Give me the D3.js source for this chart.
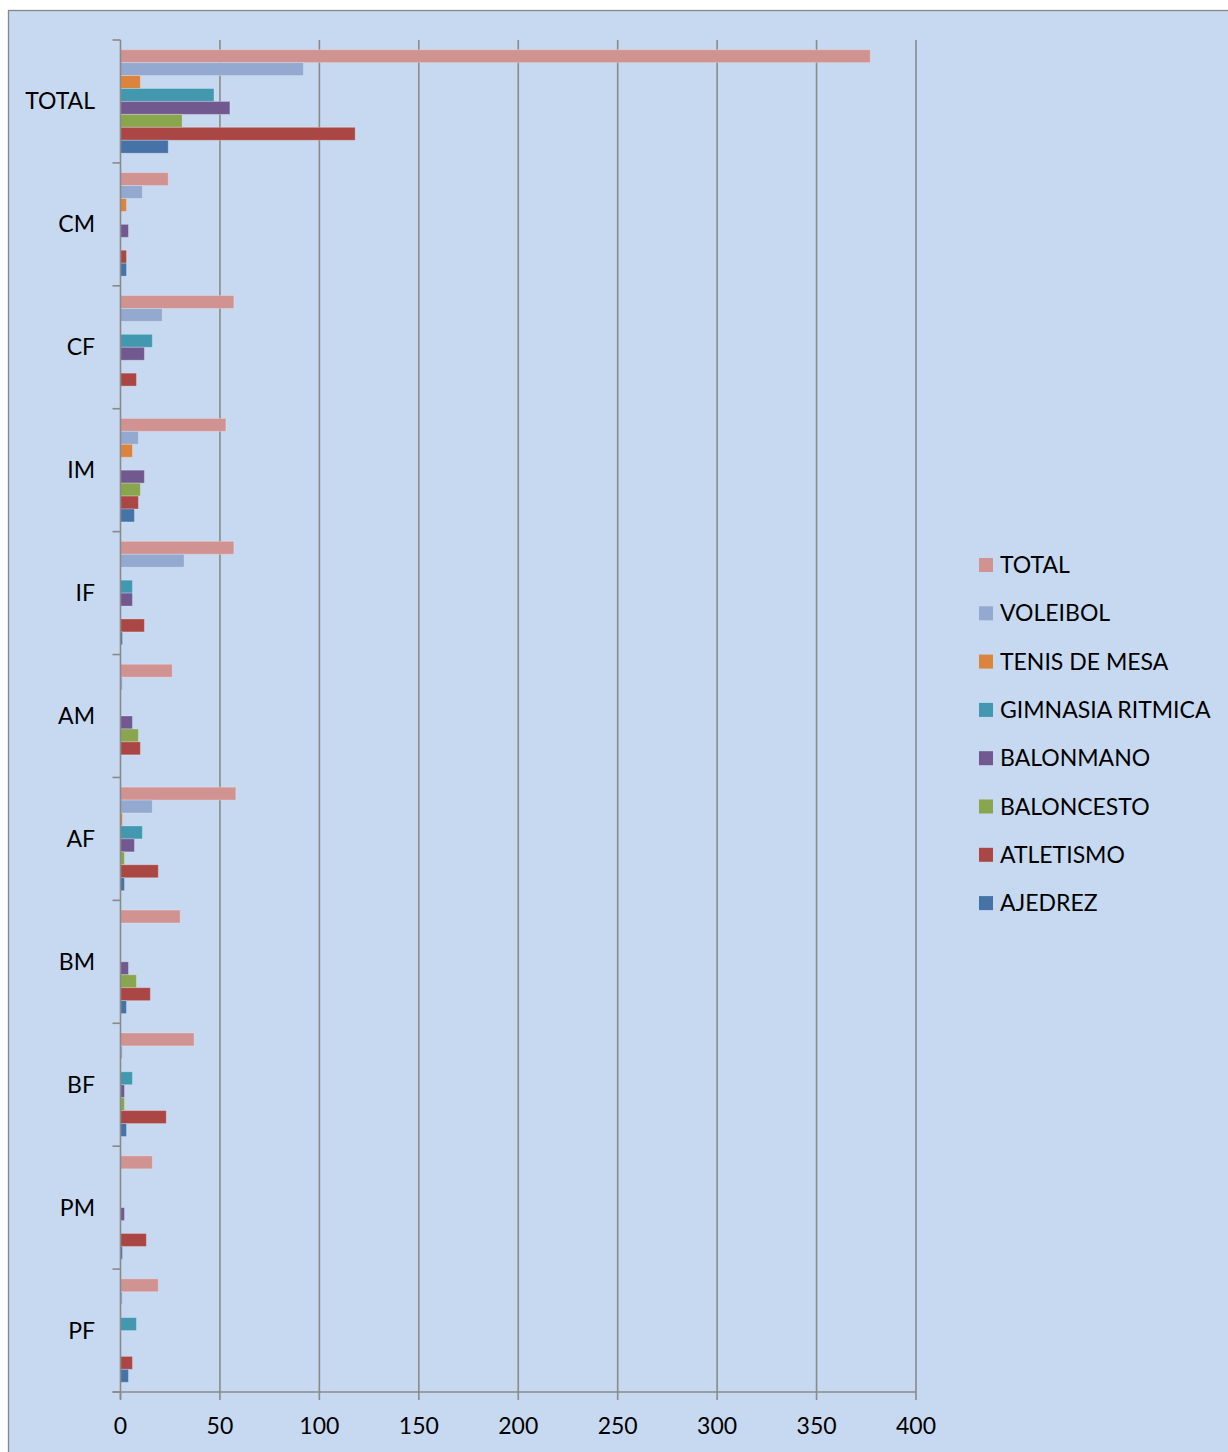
<!DOCTYPE html>
<html><head><meta charset="utf-8">
<script src="https://cdn.jsdelivr.net/npm/d3@7"></script>
<style>html,body{margin:0;padding:0;background:#fff;}svg{display:block;}</style>
</head><body>
<script>
const categories = ["TOTAL","CM","CF","IM","IF","AM","AF","BM","BF","PM","PF"];
const seriesNames = ["TOTAL","VOLEIBOL","TENIS DE MESA","GIMNASIA RITMICA","BALONMANO","BALONCESTO","ATLETISMO","AJEDREZ"];
const seriesColors = ["#D19392","#93A9CF","#DB843D","#4198AF","#71588F","#89A54E","#AA4643","#4572A7"];
const totalVals      = [377,24,57,53,57,26,58,30,37,16,19];
const voleibolVals   = [92,11,21,9,32,1,16,0,1,0,1];
const tenisVals      = [10,3,0,6,0,0,1,0,0,0,0];
const gimnasiaVals   = [47,0,16,0,6,0,11,0,6,0,8];
const balonmanoVals  = [55,4,12,12,6,6,7,4,2,2,0];
const baloncestoVals = [31,0,0,10,0,9,2,8,2,0,0];
const atletismoVals  = [118,3,8,9,12,10,19,15,23,13,6];
const ajedrezVals    = [24,3,0,7,1,0,2,3,3,1,4];
const xTicks = [0,50,100,150,200,250,300,350,400];

const seriesVals = [totalVals,voleibolVals,tenisVals,gimnasiaVals,balonmanoVals,baloncestoVals,atletismoVals,ajedrezVals];

(function(){
const W = 1228, H = 1452;
const svg = d3.select("body").append("svg").attr("width",W).attr("height",H);
const FONT = "Lato, 'Open Sans', sans-serif";
const FS = 23;

svg.append("rect").attr("x",8.5).attr("y",10.5).attr("width",W).attr("height",H)
  .attr("fill","#C6D9F0").attr("stroke","#878787").attr("stroke-width",1.3);

const pLeft = 120.5, pRight = 916, pTop = 40, pBottom = 1392;
const x = d3.scaleLinear().domain([0,400]).range([pLeft,pRight]);
const y0 = d3.scaleBand().domain(categories).range([pTop,pBottom]).paddingInner(0).paddingOuter(0);
const bandH = y0.bandwidth();
const barH = bandH/9.5;
const y1 = d3.scaleBand().domain(seriesNames).range([0.75*barH, 0.75*barH + 8*barH]);

svg.append("g").selectAll("line").data(xTicks.filter(d=>d>0)).join("line")
  .attr("x1",d=>x(d)).attr("x2",d=>x(d)).attr("y1",pTop).attr("y2",pBottom)
  .attr("stroke","#8A8A8A").attr("stroke-width",1.6);

const groups = svg.append("g").selectAll("g").data(categories).join("g")
  .attr("transform",c=>`translate(0,${y0(c)})`);
groups.selectAll("rect").data((c,ci)=>seriesNames.map((s,si)=>({s,si,v:seriesVals[si][ci]})).filter(d=>d.v>0))
  .join("rect")
  .attr("x",x(0)).attr("y",d=>y1(d.s)).attr("width",d=>x(d.v)-x(0)).attr("height",y1.bandwidth())
  .attr("fill",d=>seriesColors[d.si])
  .attr("stroke","rgba(255,255,255,0.25)").attr("stroke-width",1);

svg.append("line").attr("x1",pLeft).attr("x2",pLeft).attr("y1",pTop).attr("y2",pBottom+7)
  .attr("stroke","#8A8A8A").attr("stroke-width",1.6);
const bounds = categories.map(c=>y0(c)).concat([pBottom]);
svg.append("g").selectAll("line").data(bounds).join("line")
  .attr("x1",pLeft-8).attr("x2",pLeft).attr("y1",d=>d).attr("y2",d=>d)
  .attr("stroke","#8A8A8A").attr("stroke-width",1.6);
svg.append("g").selectAll("text").data(categories).join("text")
  .attr("x",95).attr("y",c=>y0(c)+bandH/2-1).attr("text-anchor","end").attr("dominant-baseline","central")
  .attr("font-family",FONT).attr("font-size",FS).attr("fill","#000").text(c=>c);

svg.append("line").attr("x1",pLeft-8).attr("x2",pRight).attr("y1",pBottom).attr("y2",pBottom)
  .attr("stroke","#8A8A8A").attr("stroke-width",1.6);
svg.append("g").selectAll("line").data(xTicks).join("line")
  .attr("x1",d=>x(d)).attr("x2",d=>x(d)).attr("y1",pBottom).attr("y2",pBottom+8)
  .attr("stroke","#8A8A8A").attr("stroke-width",1.6);
svg.append("g").selectAll("text").data(xTicks).join("text")
  .attr("x",d=>x(d)).attr("y",1425).attr("text-anchor","middle").attr("dominant-baseline","central")
  .attr("font-family",FONT).attr("font-size",FS).attr("fill","#000").text(d=>d);

const leg = svg.append("g").selectAll("g").data(seriesNames).join("g")
  .attr("transform",(d,i)=>`translate(979,${565 + i*48.3})`);
leg.append("rect").attr("x",0).attr("y",-7).attr("width",14).attr("height",14)
  .attr("fill",(d,i)=>seriesColors[i]);
leg.append("text").attr("x",21).attr("y",-1).attr("dominant-baseline","central")
  .attr("font-family",FONT).attr("font-size",FS).attr("fill","#000").text(d=>d);
})();
</script>
</body></html>
